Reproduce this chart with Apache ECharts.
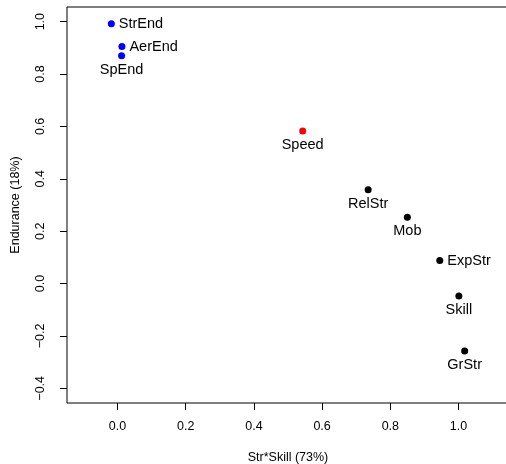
<!DOCTYPE html>
<html>
<head>
<meta charset="utf-8">
<script src="https://cdn.jsdelivr.net/npm/echarts@6/dist/echarts.min.js"></script>
<style>
  html, body { margin: 0; padding: 0; background: #fff; }
  #chart { width: 506px; height: 464px; }
</style>
</head>
<body>
<div id="chart"></div>
<script>
// loadings
var names = ['StrEnd', 'AerEnd', 'SpEnd', 'Speed', 'RelStr', 'Mob', 'ExpStr', 'Skill', 'GrStr'];
var strSkill = [-0.018, 0.013, 0.012, 0.543, 0.735, 0.850, 0.945, 1.001, 1.018];
var endurance = [0.992, 0.905, 0.870, 0.583, 0.358, 0.253, 0.088, -0.047, -0.257];
var groups = ['end', 'end', 'end', 'speed', 'str', 'str', 'str', 'str', 'str'];
var labelSide = ['right', 'right', 'bottom', 'bottom', 'bottom', 'bottom', 'right', 'bottom', 'bottom'];
var xTicks = [0, 0.2, 0.4, 0.6, 0.8, 1.0];
var yTicks = [-0.4, -0.2, 0, 0.2, 0.4, 0.6, 0.8, 1.0];

var groupColor = { end: '#0000ff', speed: '#ff0000', str: '#000000' };
var font = 'Liberation Sans, Arial, Helvetica, sans-serif';

function fmt(v) {
    var s = Math.abs(v).toFixed(1);
    return v < -1e-9 ? '\u2212' + s : s;
}

var points = names.map(function (n, i) {
    return {
        name: n,
        value: [strSkill[i], endurance[i]],
        itemStyle: { color: groupColor[groups[i]], opacity: 1 },
        label: { position: labelSide[i], distance: labelSide[i] === 'right' ? 4 : 3 }
    };
});

var chart = echarts.init(document.getElementById('chart'));
var option = {
    animation: false,
    grid: {
        left: 67, right: -3, top: 7, bottom: 61,
        outerBoundsMode: 'none',
        containLabel: false,
        show: true, borderColor: '#000', borderWidth: 1
    },
    xAxis: {
        type: 'value',
        min: -0.148, max: 1.148,
        name: 'Str*Skill (73%)',
        nameLocation: 'middle',
        nameGap: 48,
        nameTextStyle: { color: '#000', fontSize: 12.5, fontFamily: font },
        axisLine: { show: false, onZero: false },
        splitLine: { show: false },
        axisTick: { show: true, length: 7, customValues: xTicks, lineStyle: { color: '#000' } },
        axisLabel: { customValues: xTicks, formatter: fmt, margin: 17, color: '#000', fontSize: 12.5, fontFamily: font }
    },
    yAxis: {
        type: 'value',
        min: -0.456, max: 1.056,
        name: 'Endurance (18%)',
        nameLocation: 'middle',
        nameGap: 45,
        nameRotate: 90,
        nameTextStyle: { color: '#000', fontSize: 12.5, fontFamily: font },
        axisLine: { show: false, onZero: false },
        splitLine: { show: false },
        axisTick: { show: true, length: 7, customValues: yTicks, lineStyle: { color: '#000' } },
        axisLabel: { customValues: yTicks, formatter: fmt, rotate: 90, margin: 20, color: '#000', fontSize: 12.5, fontFamily: font }
    },
    series: [{
        type: 'scatter',
        symbol: 'circle',
        symbolSize: 7,
        data: points,
        label: {
            show: true,
            formatter: '{b}',
            color: '#000',
            fontSize: 14.5,
            fontFamily: font
        }
    }]
};
chart.setOption(option);
</script>
</body>
</html>
